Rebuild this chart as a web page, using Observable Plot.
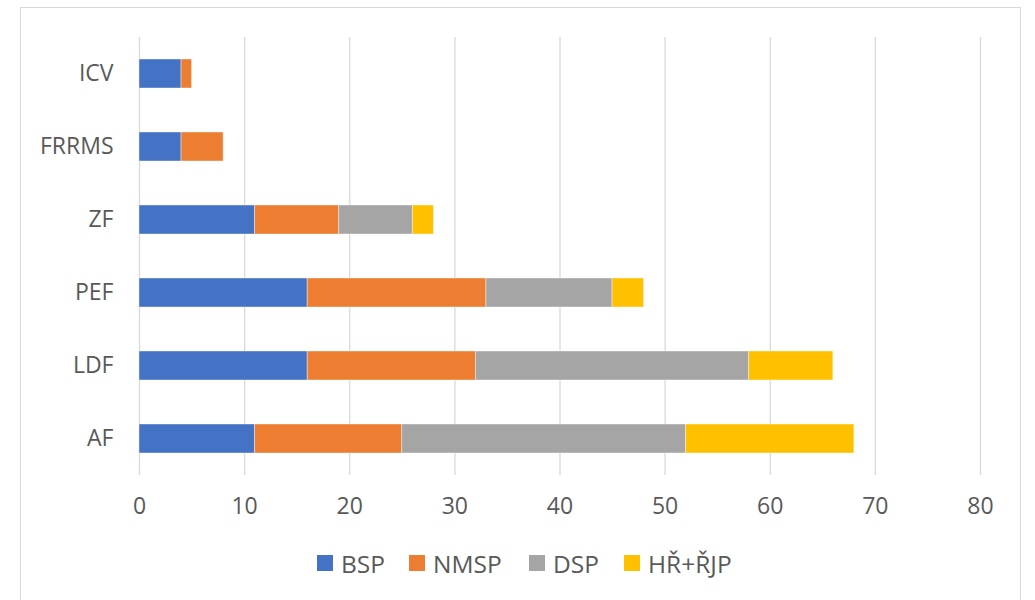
<!DOCTYPE html>
<html>
<head>
<meta charset="utf-8">
<script src="https://cdn.jsdelivr.net/npm/d3@7"></script>
<script src="https://cdn.jsdelivr.net/npm/@observablehq/plot@0.6"></script>
<style>
  html, body { margin: 0; padding: 0; background: #fff; }
  body { width: 1035px; height: 600px; position: relative; overflow: hidden; font-family: "Open Sans", sans-serif; }
  #frame { position: absolute; left: 20px; top: 7px; width: 1001px; height: 620px; border: 1.5px solid #d9d9d9; box-sizing: border-box; }
  #chart { position: absolute; left: 0; top: 0; }
  #legend { position: absolute; top: 549px; left: 0; width: 1035px; height: 28px; }
  .item { position: absolute; top: 0; display: flex; align-items: center; height: 28px; font-size: 24.5px; color: #595959; }
  .sw { width: 16px; height: 16px; margin-right: 8px; }
</style>
</head>
<body>
<div id="frame"></div>
<div id="chart"></div>
<div id="legend"></div>
<script>
const categories = ["ICV", "FRRMS", "ZF", "PEF", "LDF", "AF"];
const seriesNames = ["BSP", "NMSP", "DSP", "HŘ+ŘJP"];
const seriesColors = ["#4472C4", "#ED7D31", "#A5A5A5", "#FFC000"];
const BSP  = [4, 4, 11, 16, 16, 11];
const NMSP = [1, 4, 8, 17, 16, 14];
const DSP  = [0, 0, 7, 12, 26, 27];
const HRJP = [0, 0, 2, 3, 8, 16];
const xTicks = [0, 10, 20, 30, 40, 50, 60, 70, 80];

const seriesValues = [BSP, NMSP, DSP, HRJP];
const rows = [];
seriesNames.forEach((s, si) => {
  categories.forEach((c, ci) => {
    rows.push({ cat: c, series: s, value: seriesValues[si][ci] });
  });
});

const chart = Plot.plot({
  width: 1035,
  height: 530,
  marginLeft: 139,
  marginRight: 55,
  marginTop: 37,
  marginBottom: 55,
  style: { fontFamily: "Open Sans, sans-serif", fontSize: "23px", color: "#595959", background: "transparent" },
  x: { domain: [0, 80], ticks: xTicks, label: null, grid: false },
  y: { domain: categories, label: null, paddingInner: 0.6, paddingOuter: 0.3 },
  color: { domain: seriesNames, range: seriesColors },
  marks: [
    Plot.ruleX(xTicks, { stroke: "#d9d9d9", strokeWidth: 1.3 }),
    Plot.barX(rows, Plot.stackX({ x: "value", y: "cat", fill: "series", order: seriesNames, stroke: "white", strokeOpacity: 0.5, strokeWidth: 0.8 })),
    Plot.axisX({ ticks: xTicks, tickSize: 0, tickPadding: 22, label: null, fill: "#595959" }),
    Plot.axisY({ tickSize: 0, tickPadding: 26, label: null, fill: "#595959" })
  ]
});
document.getElementById("chart").appendChild(chart);

const legendPos = [317, 409, 529, 624];
const legend = document.getElementById("legend");
seriesNames.forEach((s, i) => {
  const it = document.createElement("div");
  it.className = "item";
  it.style.left = legendPos[i] + "px";
  const sw = document.createElement("div");
  sw.className = "sw";
  sw.style.background = seriesColors[i];
  const tx = document.createElement("span");
  tx.textContent = s;
  it.appendChild(sw);
  it.appendChild(tx);
  legend.appendChild(it);
});
</script>
</body>
</html>
